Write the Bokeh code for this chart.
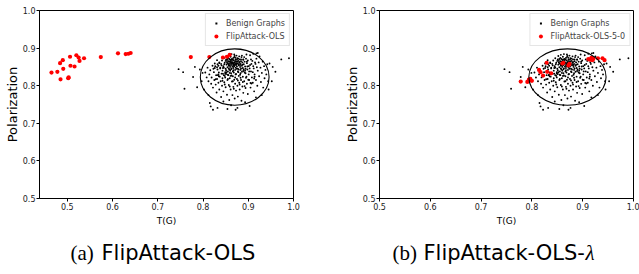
from bokeh.plotting import figure
from bokeh.models import Range1d, FixedTicker, PrintfTickFormatter, Legend, LegendItem, Label
from bokeh.layouts import row, column
from bokeh.embed import file_html
from bokeh.resources import INLINE

# ---------------- data ----------------
benign_x = [
    0.845, 0.848, 0.850, 0.851, 0.852, 0.853, 0.854, 0.855, 0.856, 0.857, 0.858, 0.858, 0.859, 0.860, 0.860,
    0.861, 0.862, 0.862, 0.863, 0.864, 0.864, 0.865, 0.865, 0.866, 0.867, 0.867, 0.868, 0.868, 0.869, 0.870,
    0.870, 0.871, 0.872, 0.872, 0.873, 0.874, 0.875, 0.876, 0.876, 0.877, 0.878, 0.879, 0.880, 0.881, 0.882,
    0.883, 0.884, 0.885, 0.886, 0.887, 0.888, 0.889, 0.890, 0.892, 0.893, 0.895, 0.840, 0.842, 0.843, 0.846,
    0.849, 0.852, 0.855, 0.857, 0.860, 0.863, 0.866, 0.869, 0.871, 0.874, 0.877, 0.880, 0.883, 0.886, 0.889,
    0.891, 0.894, 0.897, 0.899, 0.901, 0.838, 0.836, 0.834, 0.832, 0.831, 0.858, 0.861, 0.866, 0.871, 0.873,
    0.867, 0.862, 0.856, 0.853, 0.869, 0.875, 0.879, 0.881, 0.878, 0.859, 0.864, 0.870, 0.876, 0.882, 0.850,
    0.847, 0.844, 0.856, 0.872, 0.868, 0.863, 0.874, 0.860, 0.884, 0.887, 0.854,
    0.805, 0.808, 0.810, 0.812, 0.814, 0.816, 0.818, 0.819, 0.821, 0.822, 0.824, 0.825, 0.826, 0.828, 0.829,
    0.830, 0.831, 0.832, 0.834, 0.835, 0.836, 0.837, 0.839, 0.840, 0.841, 0.842, 0.843, 0.845, 0.846, 0.847,
    0.849, 0.850, 0.851, 0.853, 0.854, 0.856, 0.857, 0.858, 0.859, 0.861, 0.862, 0.864, 0.865, 0.866, 0.867,
    0.869, 0.870, 0.871, 0.872, 0.873, 0.875, 0.876, 0.877, 0.879, 0.880, 0.881, 0.883, 0.884, 0.885, 0.887,
    0.888, 0.889, 0.891, 0.892, 0.894, 0.895, 0.897, 0.898, 0.899, 0.901, 0.902, 0.904, 0.905, 0.906, 0.908,
    0.909, 0.910, 0.912, 0.913, 0.914, 0.916, 0.917, 0.918, 0.920, 0.921, 0.923, 0.924, 0.925, 0.927, 0.928,
    0.930, 0.932, 0.933, 0.935, 0.936, 0.938, 0.940, 0.942, 0.944, 0.904, 0.911, 0.918, 0.896,
    0.746, 0.756, 0.759, 0.778, 0.782, 0.787, 0.793, 0.799, 0.797, 0.802, 0.815, 0.817, 0.822, 0.832, 0.845,
    0.854, 0.872, 0.876, 0.862, 0.893, 0.903, 0.917, 0.921, 0.947, 0.954, 0.960, 0.952, 0.973, 0.990, 0.930,
    0.945, 0.812,
    0.823, 0.827, 0.833, 0.838, 0.844, 0.848, 0.852, 0.855, 0.859, 0.863, 0.868, 0.873, 0.878, 0.882, 0.886,
    0.890, 0.894, 0.898, 0.903, 0.907, 0.911, 0.915, 0.919, 0.826, 0.831, 0.836, 0.841, 0.846, 0.851, 0.857,
    0.862, 0.867, 0.874, 0.879, 0.884, 0.889, 0.893, 0.897, 0.902, 0.906, 0.910, 0.914, 0.828, 0.835, 0.843,
    0.849, 0.855, 0.861, 0.866, 0.871, 0.877, 0.883, 0.888, 0.896, 0.900, 0.907, 0.913, 0.834, 0.848, 0.859,
    0.868, 0.881, 0.892, 0.905,
]
benign_y = [
    0.852, 0.861, 0.845, 0.870, 0.856, 0.866, 0.849, 0.860, 0.874, 0.853, 0.864, 0.843, 0.858, 0.869, 0.850,
    0.877, 0.862, 0.855, 0.846, 0.866, 0.871, 0.858, 0.851, 0.861, 0.874, 0.847, 0.856, 0.867, 0.852, 0.862,
    0.879, 0.858, 0.848, 0.869, 0.855, 0.864, 0.851, 0.873, 0.859, 0.845, 0.866, 0.854, 0.861, 0.870, 0.850,
    0.858, 0.865, 0.876, 0.853, 0.862, 0.847, 0.869, 0.857, 0.864, 0.851, 0.872, 0.858, 0.867, 0.840, 0.873,
    0.836, 0.879, 0.838, 0.882, 0.840, 0.884, 0.838, 0.883, 0.842, 0.880, 0.838, 0.878, 0.842, 0.880, 0.839,
    0.876, 0.845, 0.860, 0.867, 0.852, 0.848, 0.862, 0.853, 0.843, 0.868, 0.871, 0.866, 0.870, 0.865, 0.860,
    0.853, 0.859, 0.865, 0.861, 0.876, 0.869, 0.857, 0.863, 0.872, 0.854, 0.862, 0.855, 0.864, 0.855, 0.866,
    0.857, 0.847, 0.857, 0.874, 0.860, 0.870, 0.857, 0.863, 0.870, 0.856, 0.871,
    0.835, 0.822, 0.848, 0.812, 0.830, 0.841, 0.805, 0.822, 0.853, 0.795, 0.836, 0.815, 0.847, 0.803, 0.828,
    0.782, 0.818, 0.857, 0.808, 0.835, 0.790, 0.824, 0.812, 0.770, 0.832, 0.800, 0.820, 0.785, 0.828, 0.809,
    0.822, 0.796, 0.831, 0.776, 0.815, 0.828, 0.802, 0.762, 0.820, 0.790, 0.833, 0.811, 0.775, 0.825, 0.797,
    0.816, 0.766, 0.805, 0.830, 0.787, 0.818, 0.800, 0.771, 0.826, 0.808, 0.790, 0.833, 0.815, 0.760, 0.798,
    0.824, 0.781, 0.812, 0.835, 0.794, 0.821, 0.805, 0.843, 0.778, 0.830, 0.815, 0.855, 0.795, 0.838, 0.822,
    0.866, 0.808, 0.846, 0.785, 0.830, 0.858, 0.815, 0.872, 0.800, 0.840, 0.862, 0.825, 0.878, 0.848, 0.810,
    0.834, 0.864, 0.795, 0.852, 0.820, 0.842, 0.830, 0.857, 0.812, 0.881, 0.885, 0.886, 0.883,
    0.844, 0.836, 0.792, 0.823, 0.850, 0.796, 0.843, 0.834, 0.812, 0.790, 0.754, 0.745, 0.736, 0.741, 0.758,
    0.738, 0.736, 0.741, 0.748, 0.756, 0.746, 0.769, 0.887, 0.859, 0.850, 0.837, 0.812, 0.870, 0.873, 0.775,
    0.790, 0.775,
    0.845, 0.852, 0.828, 0.846, 0.832, 0.826, 0.836, 0.829, 0.834, 0.827, 0.835, 0.831, 0.836, 0.829, 0.837,
    0.843, 0.833, 0.851, 0.846, 0.858, 0.852, 0.862, 0.849, 0.859, 0.849, 0.860, 0.854, 0.848, 0.841, 0.846,
    0.844, 0.841, 0.845, 0.843, 0.846, 0.870, 0.840, 0.864, 0.838, 0.870, 0.836, 0.824, 0.817, 0.825, 0.813,
    0.832, 0.818, 0.826, 0.812, 0.822, 0.814, 0.821, 0.810, 0.824, 0.816, 0.806, 0.819, 0.830, 0.803, 0.798,
    0.792, 0.803, 0.799, 0.807,
]

ols_x = [0.465, 0.478, 0.484, 0.485, 0.490, 0.491, 0.502, 0.503, 0.506, 0.507, 0.516, 0.520, 0.525,
         0.527, 0.537, 0.574, 0.612, 0.629, 0.635, 0.640, 0.773, 0.814, 0.844, 0.853, 0.859]
ols_y = [0.835, 0.837, 0.860, 0.817, 0.868, 0.845, 0.820, 0.822, 0.877, 0.853, 0.851, 0.881, 0.875,
         0.866, 0.873, 0.876, 0.886, 0.884, 0.885, 0.887, 0.876, 0.876, 0.875, 0.877, 0.882]

lam_x = [0.778, 0.791, 0.794, 0.797, 0.800, 0.814, 0.817, 0.822, 0.829, 0.830, 0.838, 0.860, 0.862,
         0.872, 0.874, 0.911, 0.914, 0.917, 0.919, 0.921, 0.930, 0.939, 0.943]
lam_y = [0.811, 0.810, 0.816, 0.818, 0.813, 0.842, 0.836, 0.827, 0.861, 0.837, 0.833, 0.859, 0.861,
         0.854, 0.858, 0.871, 0.869, 0.874, 0.868, 0.872, 0.873, 0.873, 0.868]

ellipse_center = (0.870, 0.823)
ellipse_size = (0.152, 0.150)

ticks = [0.5, 0.6, 0.7, 0.8, 0.9, 1.0]
x_range_a = (0.4385, 1.0)
x_range_b = (0.5, 1.0)
y_range = (0.5, 1.0)

caption_a = ("(a)", "FlipAttack-OLS")
caption_b = ("(b)", "FlipAttack-OLS-", "λ")

FONT = "DejaVu Sans"


def make_panel(xr, px, py, series_label, width, mb_left, mb_right):
    p = figure(width=width, height=232, output_backend="svg", toolbar_location=None,
               x_range=Range1d(*xr), y_range=Range1d(*y_range),
               min_border_left=mb_left, min_border_right=mb_right,
               min_border_top=10, min_border_bottom=34)
    p.xgrid.visible = False
    p.ygrid.visible = False
    p.outline_line_color = "black"
    p.outline_line_width = 1
    p.outline_line_alpha = 1
    for ax in (p.xaxis[0], p.yaxis[0]):
        ax.ticker = FixedTicker(ticks=ticks)
        ax.formatter = PrintfTickFormatter(format="%.1f")
        ax.major_label_text_font = FONT
        ax.major_label_text_font_size = "8px"
        ax.major_label_text_color = "#222222"
        ax.major_tick_out = 3
        ax.major_tick_in = 0
        ax.minor_tick_out = 0
        ax.minor_tick_in = 0
        ax.axis_line_color = "black"
        ax.major_tick_line_color = "black"
        ax.axis_label_text_font = FONT
        ax.axis_label_text_font_style = "normal"
        ax.axis_label_text_color = "black"
        ax.major_label_standoff = 1
    p.xaxis[0].axis_label = "T(G)"
    p.xaxis[0].axis_label_text_font_size = "9px"
    p.xaxis[0].axis_label_standoff = 3
    p.yaxis[0].axis_label = "Polarization"
    p.yaxis[0].axis_label_text_font_size = "13px"
    p.yaxis[0].axis_label_standoff = 0

    rb = p.scatter(benign_x, benign_y, size=1.9, fill_color="black", line_color=None, marker="circle")
    rr = p.scatter(px, py, size=4.2, fill_color="#ff0000", line_color=None, marker="circle")
    p.ellipse(x=ellipse_center[0], y=ellipse_center[1], width=ellipse_size[0],
              height=ellipse_size[1], fill_color=None, line_color="black", line_width=1.1)
    # legend proxy: a one-point line (draws nothing in the plot); its legend
    # swatch is a single short dash, i.e. a tiny dot like the benign markers
    lb = p.line(x=benign_x[:1], y=benign_y[:1], line_color="black", line_width=2,
                line_dash="2 30", line_dash_offset=-5)

    legend = Legend(items=[LegendItem(label="Benign Graphs", renderers=[lb]),
                           LegendItem(label=series_label, renderers=[rr])],
                    location="top_right", margin=3, padding=4, spacing=3,
                    label_height=10, glyph_height=10, glyph_width=12, label_standoff=4,
                    label_text_font=FONT, label_text_font_size="8px",
                    border_line_color="#cccccc", background_fill_alpha=0.8)
    p.add_layout(legend, "center")
    return p


p1 = make_panel(x_range_a, ols_x, ols_y, "FlipAttack-OLS", 333, 39, 40)
p2 = make_panel(x_range_b, lam_x, lam_y, "FlipAttack-OLS-5-0", 306, 46, 6)

# caption strip
cap = figure(width=639, height=42, output_backend="svg", toolbar_location=None,
             x_range=Range1d(0, 639), y_range=Range1d(0, 42),
             x_axis_location=None, y_axis_location=None,
             min_border_left=0, min_border_right=0, min_border_top=0, min_border_bottom=0)
cap.outline_line_color = None
cap.xgrid.visible = False
cap.ygrid.visible = False
cap.add_layout(Label(x=70, y=10, text=caption_a[0], text_font="Liberation Serif",
                     text_font_size="21px", text_color="black"))
cap.add_layout(Label(x=101, y=10, text=caption_a[1], text_font=FONT,
                     text_font_size="21px", text_color="black"))
cap.add_layout(Label(x=392, y=10, text=caption_b[0], text_font="Liberation Serif",
                     text_font_size="21px", text_color="black"))
cap.add_layout(Label(x=423, y=10, text=caption_b[1], text_font=FONT,
                     text_font_size="21px", text_color="black"))
cap.add_layout(Label(x=585, y=10, text=caption_b[2], text_font="Liberation Serif",
                     text_font_style="italic", text_font_size="21px", text_color="black"))

layout = column(row(p1, p2), cap)
open("out.html", "w").write(file_html(layout, INLINE))
